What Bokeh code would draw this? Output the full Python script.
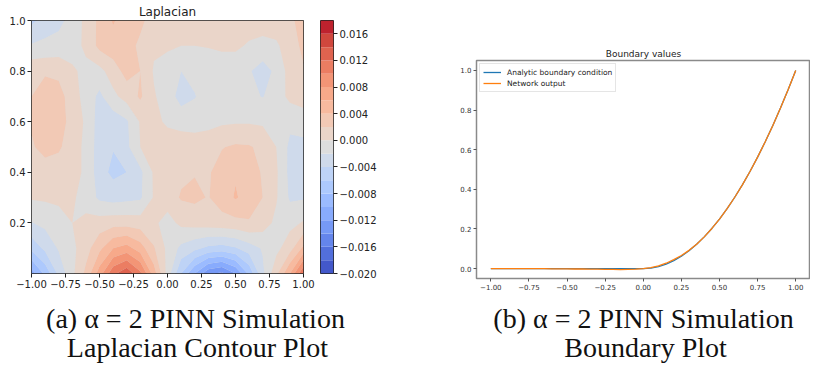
import numpy as np
from bokeh.plotting import figure
from bokeh.layouts import column, row
from bokeh.models import Range1d, FixedTicker, CustomJSTickFormatter, Legend, LegendItem, Spacer
from bokeh.embed import file_html
from bokeh.resources import INLINE
from bokeh.core.properties import value

# ---------------- data ----------------
# Laplacian field (units of 1e-3), rows y = 0.0 .. 1.0
grid_x = [-1.0, -0.9, -0.8, -0.7, -0.6, -0.5, -0.4, -0.3, -0.2, -0.1, 0.0,
          0.1, 0.2, 0.3, 0.4, 0.5, 0.6, 0.7, 0.8, 0.9, 1.0]
grid_y = [0.0, 0.1, 0.2, 0.3, 0.4, 0.5, 0.6, 0.7, 0.8, 0.9, 1.0]
lap_y00 = [-11.0, -7.5, -3.5, -0.5, 2.5, 7.0, 11.5, 13.5, 10.5, 5.0, -0.8, -6.0, -10.0, -13.5, -14.5, -12.0, -7.5, -2.5, 1.5, 6.0, 12.0]
lap_y01 = [-5.5, -3.5, -1.8, -0.5, 1.2, 3.5, 6.0, 6.8, 5.0, 2.2, -0.5, -2.5, -3.5, -4.5, -4.8, -4.2, -3.0, -1.8, -0.6, 1.2, 4.5]
lap_y02 = [-2.1, -1.5, -1.0, 0.0, 0.5, 0.9, 1.2, 1.2, 1.0, 0.4, -0.8, 0.5, 0.8, 1.0, 1.2, 1.4, 1.8, 1.0, -0.5, -0.6, 0.2]
lap_y03 = [0.2, 0.3, 0.5, 0.3, -0.8, -2.4, -2.8, -2.6, -2.3, 0.2, 1.0, 2.2, 2.4, 1.9, 3.0, 4.2, 3.2, 2.0, 0.2, -2.3, -2.2]
lap_y04 = [0.8, 1.2, 1.0, 0.6, -0.3, -3.2, -4.5, -4.0, -2.5, 0.3, 1.0, 1.6, 1.9, 1.8, 2.8, 3.8, 3.0, 1.8, 0.3, -2.6, -2.6]
lap_y05 = [1.8, 2.6, 2.3, 1.0, -0.5, -3.0, -3.9, -2.5, 0.0, 0.8, 1.0, 1.3, 1.3, 1.4, 1.9, 2.3, 2.2, 1.5, 0.0, -2.5, -2.5]
lap_y06 = [2.2, 3.4, 3.0, 1.2, -0.3, -3.0, -3.2, -2.3, 0.2, 0.5, -0.3, -0.8, -1.0, -0.7, -0.3, -0.2, -0.2, -0.3, -0.5, -1.5, -1.2]
lap_y07 = [2.0, 3.2, 2.8, 1.0, -0.8, -2.5, -0.5, 0.8, 2.3, 0.2, -1.0, -2.8, -2.1, -1.2, -1.0, -1.0, -1.5, -2.1, -1.0, 0.5, 1.0]
lap_y08 = [1.5, 1.7, 1.5, 0.3, -0.5, -0.6, 1.0, 2.8, 2.0, -0.2, -1.0, -2.0, -1.5, -1.0, -1.0, -1.0, -1.8, -3.0, -1.5, 0.8, 1.8]
lap_y09 = [-1.8, -1.5, -1.2, -0.8, 0.4, 2.6, 3.2, 3.0, 1.5, 0.3, 0.3, 0.0, 0.0, 0.1, 0.3, 0.3, -0.2, -0.5, -0.3, 1.0, 2.5]
lap_y10 = [-4.5, -3.2, -2.6, -1.2, 0.5, 2.5, 4.2, 3.0, 2.6, 0.8, 1.2, 1.8, 1.6, 1.2, 1.0, 0.8, 0.8, 0.8, 1.0, 1.6, 2.8]

levels = [-0.020, -0.018, -0.016, -0.014, -0.012, -0.010, -0.008, -0.006, -0.004, -0.002,
          0.000, 0.002, 0.004, 0.006, 0.008, 0.010, 0.012, 0.014, 0.016, 0.018]
cbar_ticks = [-0.020, -0.016, -0.012, -0.008, -0.004, 0.000, 0.004, 0.008, 0.012, 0.016]
contour_xticks = [-1.0, -0.75, -0.5, -0.25, 0.0, 0.25, 0.5, 0.75, 1.0]
contour_yticks = [0.2, 0.4, 0.6, 0.8, 1.0]

# Boundary values
bnd_x = [-1.00, -0.95, -0.90, -0.85, -0.80, -0.75, -0.70, -0.65, -0.60, -0.55, -0.50,
         -0.45, -0.40, -0.35, -0.30, -0.25, -0.20, -0.15, -0.10, -0.05, 0.00,
         0.05, 0.10, 0.15, 0.20, 0.25, 0.30, 0.35, 0.40, 0.45, 0.50,
         0.55, 0.60, 0.65, 0.70, 0.75, 0.80, 0.85, 0.90, 0.95, 1.00]
analytic = [0.0, 0.0, 0.0, 0.0, 0.0, 0.0, 0.0, 0.0, 0.0, 0.0, 0.0,
            0.0, 0.0, 0.0, 0.0, 0.0, 0.0, 0.0, 0.0, 0.0, 0.0,
            0.0025, 0.01, 0.0225, 0.04, 0.0625, 0.09, 0.1225, 0.16, 0.2025, 0.25,
            0.3025, 0.36, 0.4225, 0.49, 0.5625, 0.64, 0.7225, 0.81, 0.9025, 1.0]
network = [0.0, 0.0, 0.0, 0.0, 0.0, 0.0, 0.0, 0.0, -0.001, -0.001, -0.001,
           -0.002, -0.002, -0.003, -0.003, -0.004, -0.004, -0.005, -0.004, -0.003, 0.0,
           0.005, 0.014, 0.027, 0.045, 0.066, 0.092, 0.123, 0.160, 0.2025, 0.25,
           0.3025, 0.36, 0.4225, 0.49, 0.5625, 0.64, 0.7225, 0.81, 0.9025, 1.0]
bnd_xticks = [-1.0, -0.75, -0.5, -0.25, 0.0, 0.25, 0.5, 0.75, 1.0]
bnd_yticks = [0.0, 0.2, 0.4, 0.6, 0.8, 1.0]
series_labels = ["Analytic boundary condition", "Network output"]

captions = ["(a) \u03b1 = 2 PINN Simulation", "Laplacian Contour Plot",
            "(b) \u03b1 = 2 PINN Simulation", "Boundary Plot"]

# ---------------- colormap (coolwarm) ----------------
COOLWARM = [(59, 76, 192), (68, 90, 204), (77, 104, 215), (87, 117, 225), (98, 130, 234),
            (108, 142, 241), (119, 154, 247), (130, 165, 251), (141, 176, 254), (152, 185, 255),
            (163, 194, 255), (174, 201, 253), (184, 208, 249), (194, 213, 244), (204, 217, 238),
            (213, 219, 230), (221, 221, 221), (229, 216, 209), (236, 211, 197), (241, 204, 185),
            (245, 196, 173), (247, 187, 160), (247, 177, 148), (247, 166, 135), (244, 154, 123),
            (241, 141, 111), (236, 127, 99), (229, 112, 88), (222, 96, 77), (213, 80, 66),
            (203, 62, 56), (192, 40, 47), (180, 4, 38)]


def cmap(t):
    pos = t * (len(COOLWARM) - 1)
    i = min(int(pos), len(COOLWARM) - 2)
    f = pos - i
    a, b = COOLWARM[i], COOLWARM[i + 1]
    c = [round(a[k] + (b[k] - a[k]) * f) for k in range(3)]
    return "#%02x%02x%02x" % tuple(c)


lo, hi = levels[0], levels[-1]
palette = [cmap(((levels[i] + levels[i + 1]) / 2 - lo) / (hi - lo)) for i in range(len(levels) - 1)]

Z = np.array([lap_y00, lap_y01, lap_y02, lap_y03, lap_y04, lap_y05, lap_y06,
              lap_y07, lap_y08, lap_y09, lap_y10]) * 1e-3

SANS = "DejaVu Sans"


def fmt(dec):
    return CustomJSTickFormatter(code="return (tick < -1e-12 ? '\\u2212' : '') + Math.abs(tick).toFixed(%d);" % dec)


def style_axis(ax, size, color, tick_out, standoff):
    ax.major_label_text_font = SANS
    ax.major_label_text_font_size = size
    ax.major_label_text_color = color
    ax.major_tick_out = tick_out
    ax.major_tick_in = 0
    ax.minor_tick_line_color = None
    ax.axis_line_color = None
    ax.major_label_standoff = standoff


def style_title(p, text, size, standoff):
    p.title.text = text
    p.title.text_font = SANS
    p.title.text_font_size = size
    p.title.text_font_style = "normal"
    p.title.align = "center"
    p.title.text_color = "#222222"
    p.title.standoff = standoff


TOP_H = 292

# ---------------- contour figure ----------------
f1 = figure(width=320, height=TOP_H, x_range=Range1d(-1, 1), y_range=Range1d(0, 1),
            output_backend="svg", toolbar_location=None,
            min_border_left=31, min_border_right=17, min_border_top=20, min_border_bottom=19)
f1.background_fill_color = "#dddddd"
f1.contour(x=grid_x, y=grid_y, z=Z, levels=levels, fill_color=palette)
f1.xgrid.visible = False
f1.ygrid.visible = False
f1.outline_line_color = "#222222"
f1.outline_line_width = 1
f1.xaxis.ticker = FixedTicker(ticks=contour_xticks)
f1.yaxis.ticker = FixedTicker(ticks=contour_yticks)
f1.xaxis.formatter = fmt(2)
f1.yaxis.formatter = fmt(1)
for ax in (f1.xaxis[0], f1.yaxis[0]):
    style_axis(ax, "10px", "#222222", 4, 2)
    ax.major_tick_line_color = "#222222"
style_title(f1, "Laplacian", "12px", 3)

# ---------------- colorbar figure ----------------
fcb = figure(width=135, height=TOP_H, x_range=Range1d(0, 1), y_range=Range1d(lo, hi),
             output_backend="svg", toolbar_location=None, y_axis_location="right",
             min_border_left=0, min_border_right=122, min_border_top=20, min_border_bottom=19)
fcb.quad(left=0, right=1, bottom=levels[:-1], top=levels[1:], fill_color=palette, line_color=None)
fcb.xaxis.visible = False
fcb.xgrid.visible = False
fcb.ygrid.visible = False
fcb.outline_line_color = "#222222"
fcb.yaxis.ticker = FixedTicker(ticks=cbar_ticks)
fcb.yaxis.formatter = fmt(3)
style_axis(fcb.yaxis[0], "10px", "#222222", 4, 2)
fcb.yaxis.major_tick_line_color = "#222222"

# ---------------- boundary figure ----------------
f2 = figure(width=355, height=TOP_H - 45, x_range=Range1d(-1.094, 1.097), y_range=Range1d(-0.05, 1.05),
            output_backend="svg", toolbar_location=None,
            min_border_left=21, min_border_right=0, min_border_top=14, min_border_bottom=14)
r1 = f2.line(bnd_x, analytic, line_color="#1f77b4", line_width=1.3)
r2 = f2.line(bnd_x, network, line_color="#ff7f0e", line_width=1.3)
f2.xgrid.visible = False
f2.ygrid.visible = False
f2.outline_line_color = "#8a8a8a"
f2.outline_line_width = 1.5
f2.xaxis.ticker = FixedTicker(ticks=bnd_xticks)
f2.yaxis.ticker = FixedTicker(ticks=bnd_yticks)
f2.xaxis.formatter = fmt(2)
f2.yaxis.formatter = fmt(1)
for ax in (f2.xaxis[0], f2.yaxis[0]):
    style_axis(ax, "7px", "#333333", 3, 2)
    ax.major_tick_line_color = "#555555"
style_title(f2, "Boundary values", "9px", 3)
legend = Legend(items=[LegendItem(label=series_labels[0], renderers=[r1]),
                       LegendItem(label=series_labels[1], renderers=[r2])],
                location="top_left", margin=3, padding=3, spacing=1,
                label_text_font=SANS, label_text_font_size="7.5px", label_text_color="#222222",
                glyph_width=18, glyph_height=10, label_height=10, label_standoff=6,
                border_line_color="#cccccc", border_line_width=1,
                background_fill_alpha=0.8)
f2.add_layout(legend)

right_col = column(Spacer(width=355, height=45), f2, spacing=0)

# ---------------- captions ----------------
fcap = figure(width=810, height=72, x_range=Range1d(0, 810), y_range=Range1d(72, 0),
              output_backend="svg", toolbar_location=None, min_border=0)
fcap.axis.visible = False
fcap.xgrid.visible = False
fcap.ygrid.visible = False
fcap.outline_line_color = None
fcap.text(x=[195, 197, 643, 645], y=[26, 55, 26, 55], text=captions,
          text_font=value("Liberation Serif"), text_font_size="28px",
          text_align="center", text_baseline="alphabetic", text_color="#111111")

layout = column(row(f1, fcb, right_col, spacing=0), fcap, spacing=0)
open("out.html", "w").write(file_html(layout, INLINE))
